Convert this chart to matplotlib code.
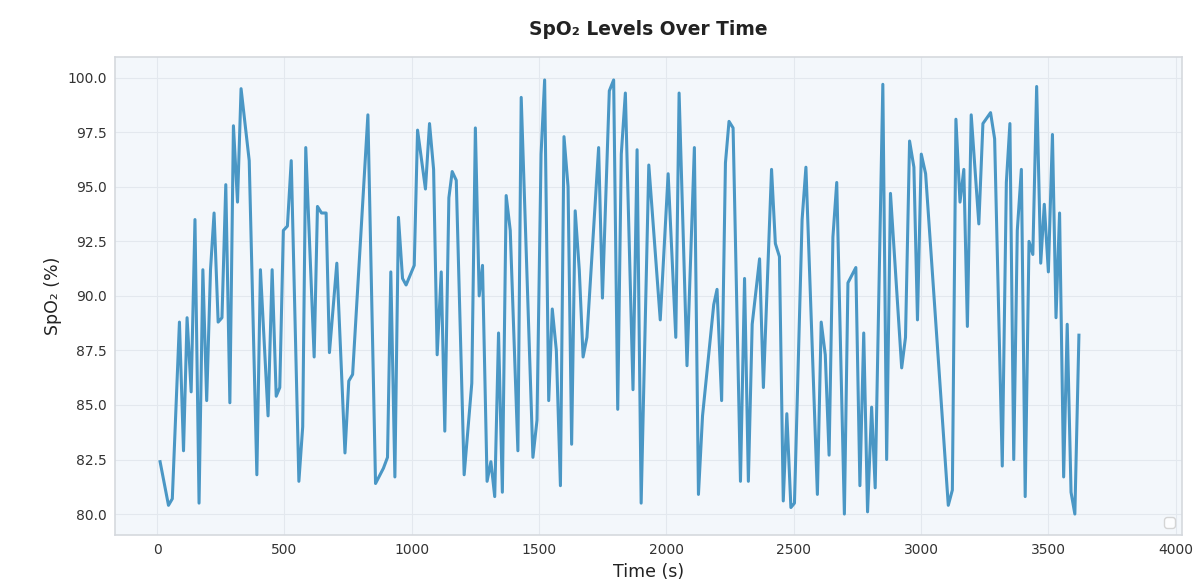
import numpy as np
import matplotlib
matplotlib.use("Agg")
import matplotlib.pyplot as plt

# time (s) and SpO2 (%)
time_s = [12, 45, 60, 88, 104, 118, 134, 149, 165, 180, 195, 210, 224, 240, 255, 270,
          286, 300, 316, 330, 362, 392, 406, 436, 452, 468, 482, 496, 512, 527, 557, 572,
          584, 617, 630, 646, 664, 677, 706, 738, 753, 768, 828, 858, 889, 905, 918, 934,
          948, 964, 978, 1010, 1023, 1054, 1070, 1086, 1100, 1116, 1130, 1146, 1159, 1175,
          1206, 1236, 1250, 1265, 1278, 1296, 1311, 1326, 1341, 1356, 1371, 1387, 1417, 1430,
          1476, 1492, 1508, 1522, 1538, 1552, 1568, 1584, 1598, 1614, 1628, 1642, 1658, 1673,
          1688, 1734, 1749, 1776, 1793, 1809, 1823, 1839, 1869, 1885, 1901, 1931, 1976, 2007,
          2037, 2050, 2081, 2110, 2126, 2142, 2186, 2199, 2217, 2232, 2246, 2262, 2291, 2307,
          2322, 2337, 2366, 2381, 2413, 2428, 2444, 2459, 2473, 2489, 2503, 2533, 2548, 2593,
          2608, 2624, 2639, 2654, 2669, 2699, 2713, 2744, 2760, 2775, 2790, 2806, 2820, 2850,
          2865, 2880, 2924, 2939, 2955, 2972, 2986, 3001, 3018, 3107, 3123, 3137, 3153, 3168,
          3182, 3197, 3227, 3243, 3273, 3289, 3319, 3335, 3349, 3364, 3378, 3394, 3409, 3424,
          3439, 3454, 3470, 3484, 3500, 3516, 3530, 3544, 3560, 3574, 3589, 3604, 3620]
spo2 = [82.4, 80.4, 80.7, 88.8, 82.9, 89.0, 85.6, 93.5, 80.5, 91.2, 85.2, 91.2, 93.8, 88.8, 89.0, 95.1,
        85.1, 97.8, 94.3, 99.5, 96.2, 81.8, 91.2, 84.5, 91.2, 85.4, 85.8, 93.0, 93.2, 96.2, 81.5, 84.0,
        96.8, 87.2, 94.1, 93.8, 93.8, 87.4, 91.5, 82.8, 86.1, 86.4, 98.3, 81.4, 82.1, 82.6, 91.1, 81.7,
        93.6, 90.8, 90.5, 91.4, 97.6, 94.9, 97.9, 95.8, 87.3, 91.1, 83.8, 94.5, 95.7, 95.3,
        81.8, 86.0, 97.7, 90.0, 91.4, 81.5, 82.4, 80.8, 88.3, 81.0, 94.6, 93.0, 82.9, 99.1,
        82.6, 84.3, 96.5, 99.9, 85.2, 89.4, 87.5, 81.3, 97.3, 95.0, 83.2, 93.9, 91.2, 87.2,
        88.1, 96.8, 89.9, 99.4, 99.9, 84.8, 96.5, 99.3, 85.7, 96.7, 80.5, 96.0, 88.9, 95.6,
        88.1, 99.3, 86.8, 96.8, 80.9, 84.5, 89.6, 90.3, 85.2, 96.1, 98.0, 97.7, 81.5, 90.8,
        81.5, 88.7, 91.7, 85.8, 95.8, 92.4, 91.8, 80.6, 84.6, 80.3, 80.5, 93.5, 95.9, 80.9,
        88.8, 87.3, 82.7, 92.7, 95.2, 80.0, 90.6, 91.3, 81.3, 88.3, 80.1, 84.9, 81.2, 99.7,
        82.5, 94.7, 86.7, 88.1, 97.1, 95.9, 88.9, 96.5, 95.6, 80.4, 81.1, 98.1, 94.3, 95.8,
        88.6, 98.3, 93.3, 97.9, 98.4, 97.2, 82.2, 95.2, 97.9, 82.5, 93.0, 95.8, 80.8, 92.5,
        91.9, 99.6, 91.5, 94.2, 91.1, 97.4, 89.0, 93.8, 81.7, 88.7, 81.0, 80.0, 88.2]

line_color = "#4a97c5"

fig = plt.figure(figsize=(12.03, 5.85), dpi=100)
ax = fig.add_axes([0.0956, 0.0855, 0.887, 0.817])
ax.set_facecolor("#f3f7fb")

ax.plot(time_s, spo2, color=line_color, linewidth=2.2)

ax.set_xlim(-165, 4025)
ax.set_ylim(79.04, 100.95)
ax.set_xticks(np.arange(0, 4001, 500))
ax.set_yticks(np.arange(80, 100.1, 2.5))
ax.set_yticklabels(["{:.1f}".format(v) for v in np.arange(80, 100.1, 2.5)])

ax.grid(True, color="#e3e8ee", linewidth=0.8)
ax.set_axisbelow(True)
for s in ax.spines.values():
    s.set_color("#d5d9de")
    s.set_linewidth(1.2)
ax.tick_params(axis="both", labelsize=10, colors="#333333", length=0, pad=6)

ax.set_title("SpO\u2082 Levels Over Time", fontsize=13.4, fontweight="bold", pad=16, color="#222222")
ax.set_xlabel("Time (s)", fontsize=12.5, color="#222222", labelpad=4)
ax.set_ylabel("SpO\u2082 (%)", fontsize=12.5, color="#222222", labelpad=4)

ax.legend(handles=[], loc="lower right", frameon=True)

fig.savefig("out.png", dpi=100)
